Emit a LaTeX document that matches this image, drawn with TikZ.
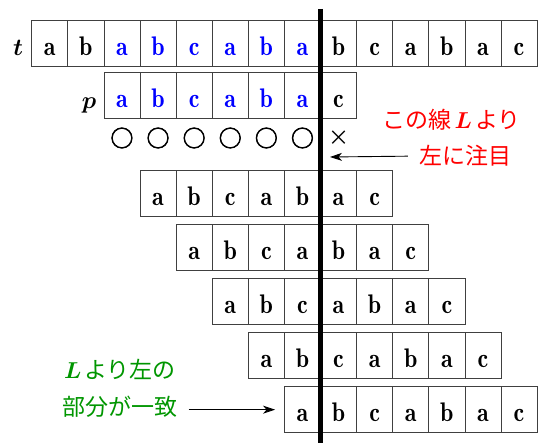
\documentclass[tikz,border=0pt]{standalone}
\usepackage{fix-cm}
\usepackage{fontspec}
\usepackage{bm}
\usepackage{graphicx}
\newfontfamily\jafont{Noto Sans CJK JP}
\newfontfamily\jafontheavy{Noto Sans CJK JP}[FakeBold=2.5]
\usetikzlibrary{arrows.meta}
\definecolor{mygreen}{RGB}{0,150,0}
\newcommand{\cellch}[1]{\scalebox{1}[1.12]{$\mathbf{#1}$}}
\tikzset{
  cell/.style={draw=black!75, line width=0.7pt, minimum width=36.1pt, minimum height=46pt,
    inner sep=0pt, text height=24.4pt, text depth=0pt, font=\fontsize{24}{24}\selectfont},
  lbl/.style={inner sep=0pt, anchor=base, font=\fontsize{24}{24}\selectfont},
  okmark/.style={inner sep=0pt, font=\jafontheavy\fontsize{23}{23}\selectfont},
  ngmark/.style={inner sep=0pt, font=\jafont\fontsize{21}{21}\selectfont},
  redtxt/.style={inner sep=0pt, anchor=base, text=red, font=\jafont\fontsize{23}{23}\selectfont},
  greentxt/.style={inner sep=0pt, anchor=base, text=mygreen, font=\jafont\fontsize{23}{23}\selectfont},
  arr/.style={line width=0.9pt, -{Stealth[length=12pt,width=8pt,inset=3.5pt]}},
  vline/.style={line width=4.5pt}
}
\begin{document}
\begin{tikzpicture}[x=1pt,y=-1pt]
\useasboundingbox (0,0) rectangle (538,443);
% text row t
\foreach \ch/\co [count=\i from 0] in {a/black,b/black,a/blue,b/blue,c/blue,a/blue,b/blue,a/blue,b/black,c/black,a/black,b/black,a/black,c/black}
  \node[cell, text=\co] (t\i) at ({49.75+\i*36.1},43.3) {\cellch{\ch}};
% pattern row p
\foreach \ch/\co [count=\i from 0] in {a/blue,b/blue,c/blue,a/blue,b/blue,a/blue,c/black}
  \node[cell, text=\co] (p\i) at ({49.75+(\i+2)*36.1},95.5) {\cellch{\ch}};
% labels
\node[lbl] (tlab) at (18,56) {$\bm{t}$};
\node[lbl] (plab) at (89,108.7) {$\bm{p}$};
% match marks
\foreach \i in {0,...,5}
  \node[okmark] (ok\i) at ({49.75+(\i+2)*36.1},138) {○};
\node[ngmark] (ng) at ({49.75+8*36.1},138) {×};
% shifted rows
\foreach \r in {1,...,5}
  \foreach \ch [count=\i from 0] in {a,b,c,a,b,a,c}
    \node[cell] (r\r-\i) at ({49.75+(\i+\r+2)*36.1},{193+(\r-1)*54.17}) {\cellch{\ch}};
% vertical line L
\coordinate (Ltop) at (320.5,9);
\coordinate (Lbot) at (320.5,443);
\draw[vline] (Ltop) -- (Lbot);
% red note
\node[redtxt] (n1) at (451.7,128.4) {この線\kern3pt$\bm{L}$\kern3pt より};
\node[redtxt] (n2) at (465,165) {左に注目};
\coordinate (aL) at (330,157);
\draw[arr] ([xshift=-11pt]n2.west) -- (aL);
% green note
\node[greentxt] (g1) at (120,379) {$\bm{L}$\kern3pt より左の};
\node[greentxt] (g2) at (120,415.4) {部分が一致};
\draw[arr] ([xshift=11pt]g2.east |- r5-0.west) -- ([xshift=-9pt]r5-0.west);
\end{tikzpicture}
\end{document}
